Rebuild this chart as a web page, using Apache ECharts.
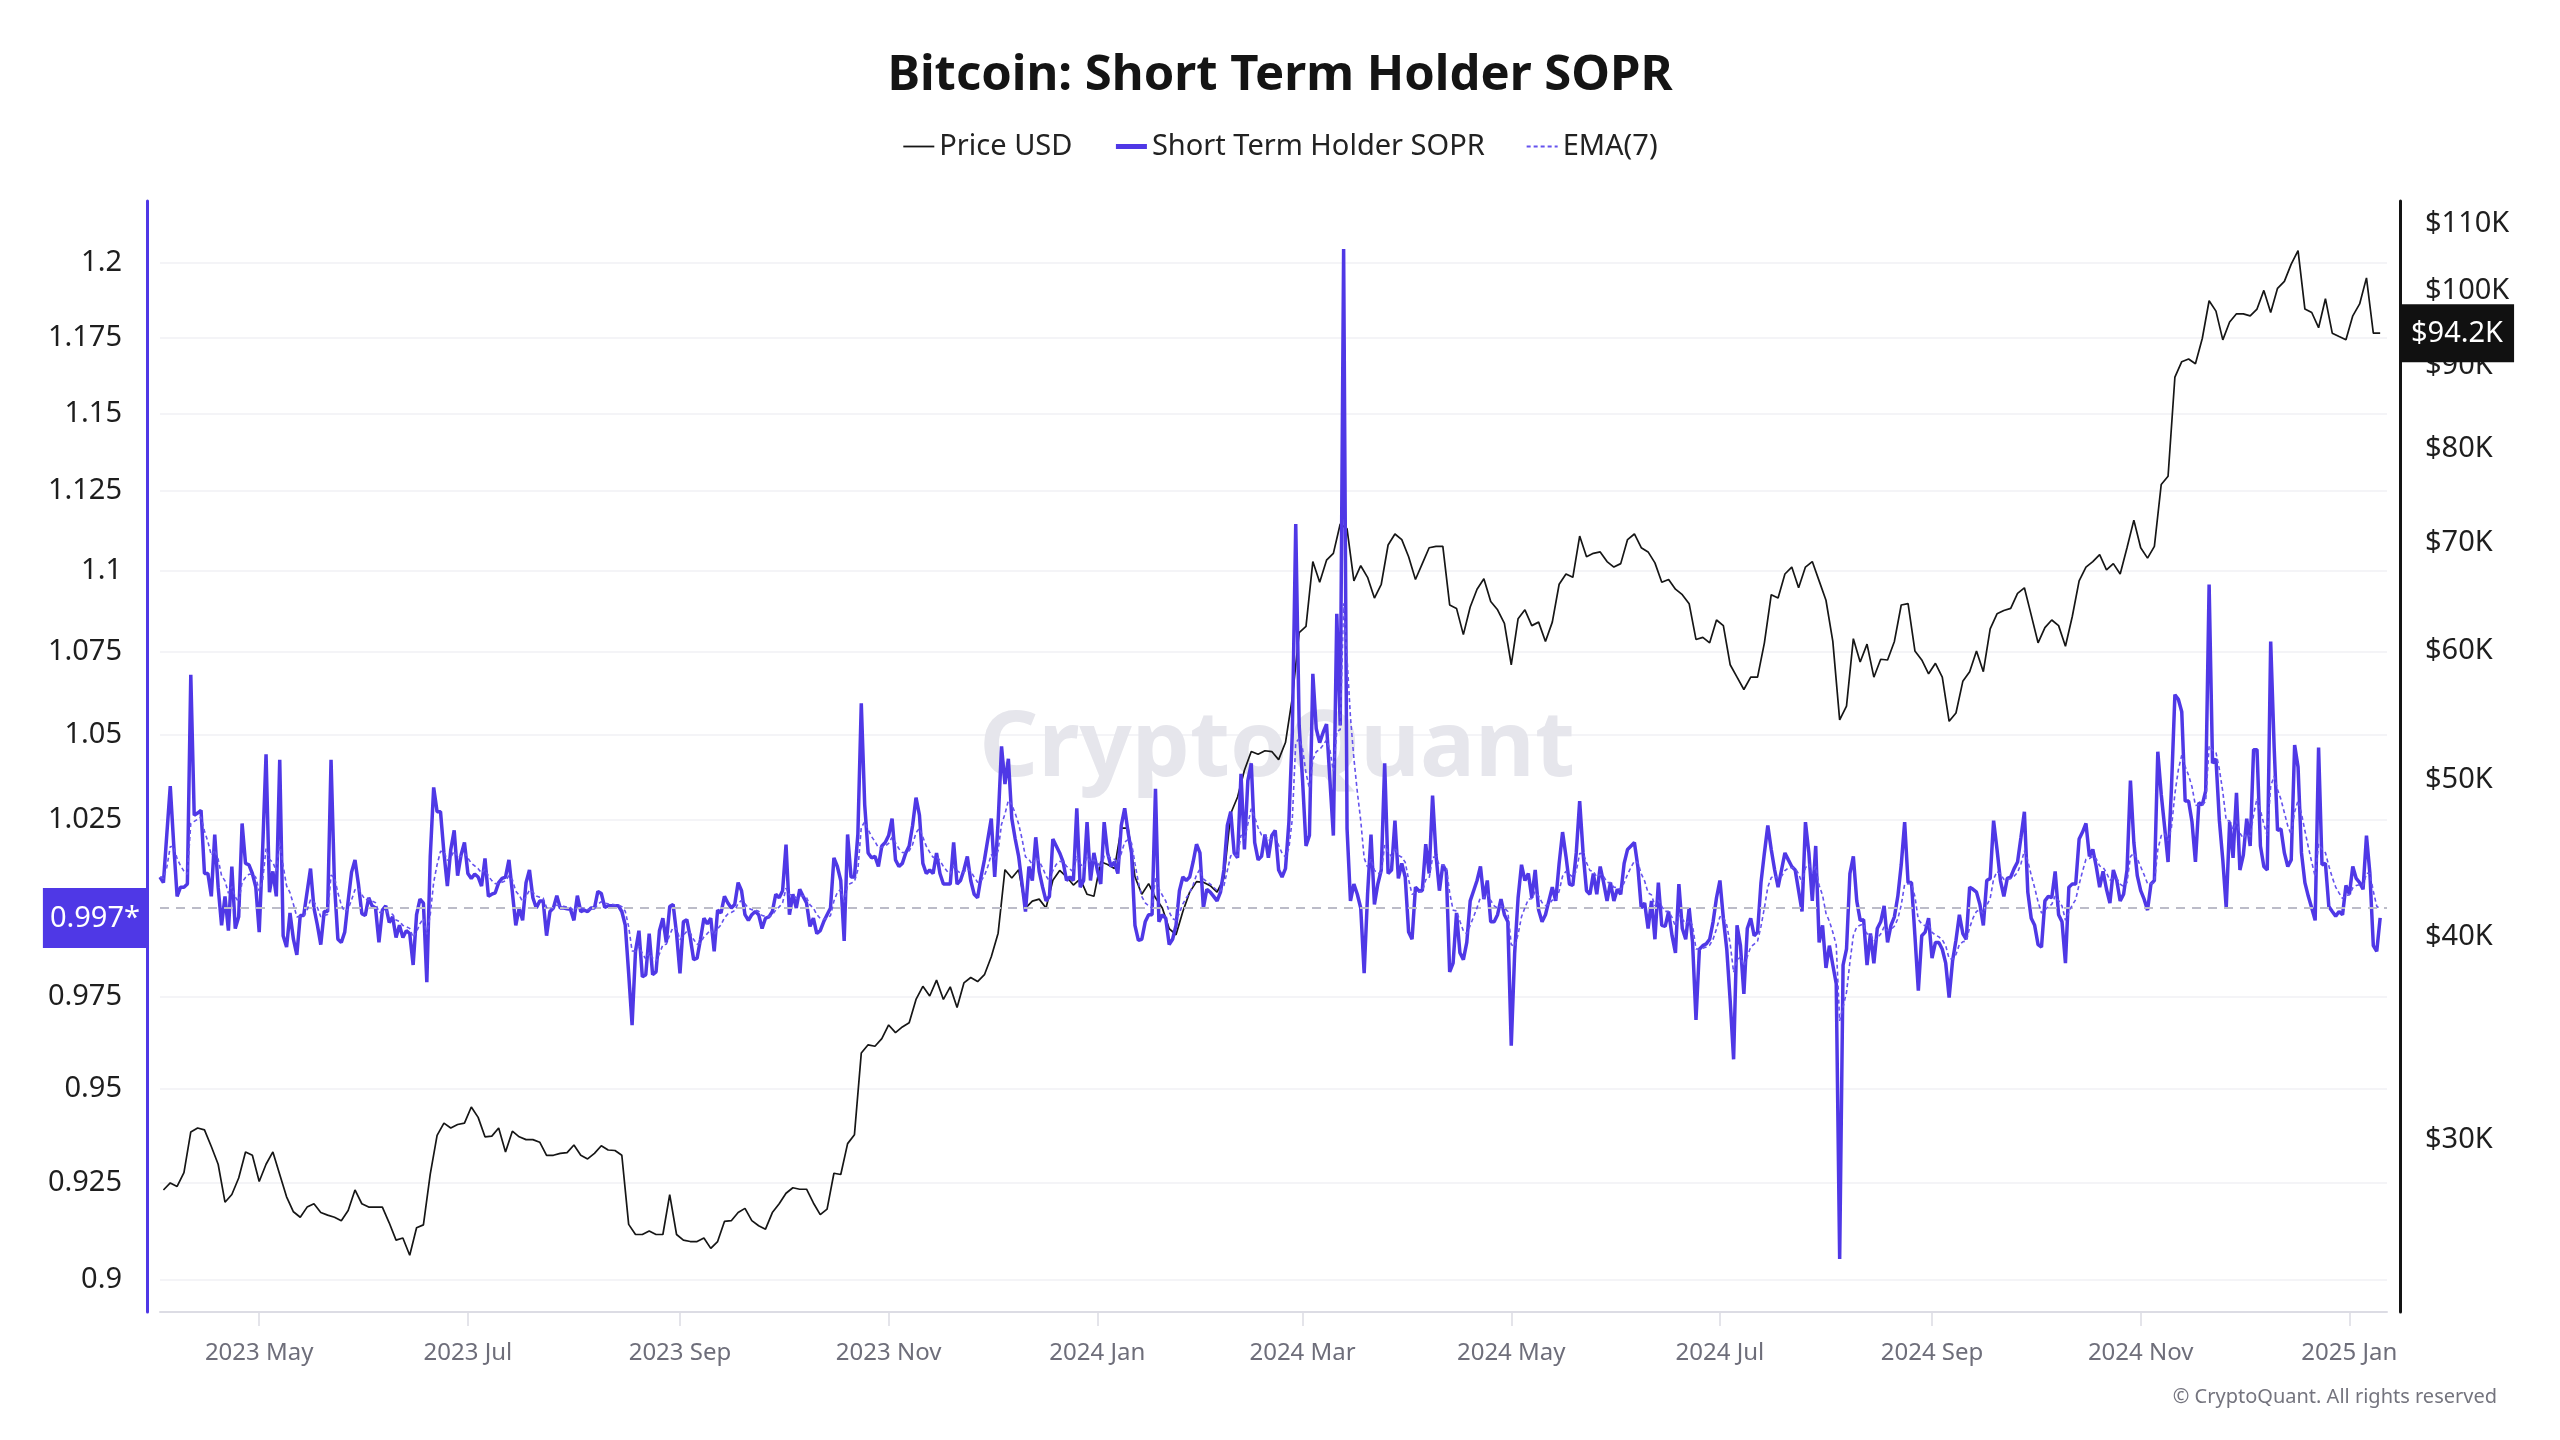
<!DOCTYPE html>
<html>
<head>
<meta charset="utf-8">
<script src="https://cdn.jsdelivr.net/npm/echarts@6.0.0/dist/echarts.min.js"></script>
<style>
html,body{margin:0;padding:0;background:#ffffff;}
#chart{width:2560px;height:1440px;}
</style>
</head>
<body>
<div id="chart"></div>
<script>
// ---------------- data ----------------
// Short Term Holder SOPR, one value per day starting 2023-04-02
const soprStart = '2023-04-02';
const soprValues = [
1.0086,1.0070,1.021,1.0349,1.018,1.0031,1.0057,1.0057,1.0066,1.068,
1.0264,1.027,1.0278,1.0096,1.0096,1.0031,1.0208,1.0057,0.9949,1.0031,
0.9934,1.0116,0.994,0.9973,1.024,1.0125,1.0121,1.0096,1.0057,0.993,
1.0164,1.0442,1.0043,1.0102,1.0031,1.0426,0.992,0.9888,0.9984,0.991,
0.9866,0.9977,0.9977,1.0043,1.011,0.9998,0.995,0.9895,0.9988,0.9988,
1.0426,1.0066,0.991,0.9901,0.993,1.0018,1.01,1.0135,1.0066,0.9982,
0.9977,1.0027,1.0004,0.9998,0.9901,0.9992,1.0004,0.9957,0.9973,0.9915,
0.9949,0.9915,0.9934,0.9926,0.9838,0.9979,1.0023,1.0012,0.979,1.0145,
1.0345,1.0274,1.0274,1.0155,1.006,1.0165,1.022,1.009,1.0149,1.0185,
1.0096,1.0082,1.0094,1.0086,1.006,1.0139,1.0031,1.0037,1.0041,1.007,
1.0082,1.0086,1.0135,1.0043,0.9949,0.9998,0.9963,1.007,1.0106,1.0027,
0.9998,1.0018,1.0018,0.992,0.9988,0.9998,1.0033,0.9998,0.9998,0.9996,
0.9994,0.9963,1.0033,0.9988,0.9992,0.9988,0.9998,0.9998,1.0045,1.0039,
1.0,1.0004,1.0004,1.0004,1.0004,0.9988,0.995,0.9815,0.9672,0.9876,
0.9934,0.9805,0.9811,0.9926,0.9811,0.9819,0.9934,0.9969,0.9901,1.0002,
1.0008,0.9926,0.9815,0.9959,0.9965,0.9915,0.9853,0.9857,0.991,0.9969,
0.9953,0.9969,0.9876,0.9992,0.9984,1.0031,1.0012,0.9998,1.0008,1.007,
1.0047,0.9979,0.9963,0.9979,0.9988,0.9979,0.994,0.9969,0.9973,0.9988,
1.0037,1.0027,1.0047,1.0179,0.9979,1.0037,0.9998,1.0051,1.0031,1.0012,
0.9946,0.9969,0.9926,0.9934,0.9959,0.9979,0.9998,1.0141,1.0116,1.0076,
0.9905,1.0208,1.0086,1.0086,1.0208,1.0594,1.0294,1.0155,1.0141,1.0145,
1.0116,1.0175,1.0185,1.0205,1.0254,1.0135,1.0116,1.0125,1.0155,1.0175,
1.0234,1.0315,1.0264,1.0125,1.0096,1.0106,1.0096,1.0155,1.0096,1.0066,
1.0066,1.0066,1.0185,1.0066,1.0076,1.0106,1.0145,1.0076,1.0037,1.0027,
1.0086,1.0135,1.0195,1.0254,1.0086,1.0244,1.0466,1.0355,1.0429,1.0254,
1.0195,1.0145,1.0066,0.9988,1.0116,1.0076,1.02,1.0102,1.0057,1.0018,
1.0031,1.0195,1.0175,1.0155,1.0129,1.0076,1.0086,1.0076,1.0284,1.0057,
1.0076,1.0244,1.0076,1.0155,1.0106,1.0066,1.0244,1.0155,1.0116,1.0129,
1.0096,1.0234,1.0284,1.0214,1.0155,0.9949,0.9907,0.991,0.9959,0.9979,
0.9979,1.0341,0.9959,0.9979,0.9969,0.9895,0.991,0.9949,1.0047,1.0086,
1.0076,1.0086,1.0129,1.018,1.0155,0.9998,1.0051,1.0043,1.0031,1.0018,
1.0043,1.0106,1.0234,1.0274,1.0155,1.0141,1.0385,1.0165,1.0365,1.0416,
1.0185,1.0135,1.0145,1.0208,1.0141,1.0205,1.022,1.0106,1.0086,1.011,
1.0244,1.0507,1.1145,1.0528,1.0365,1.0175,1.0205,1.0683,1.0518,1.0477,
1.0507,1.0532,1.0365,1.0205,1.0866,1.0528,1.2047,1.0225,1.0018,1.0066,
1.0037,0.9998,0.9815,1.0037,1.0208,1.0008,1.0066,1.0106,1.0416,1.0096,
1.0106,1.0248,1.0082,1.0125,1.0086,0.993,0.991,1.0057,1.0047,1.0047,
1.018,1.0096,1.0321,1.0149,1.0047,1.0121,1.0102,0.9819,0.9843,0.9984,
0.9872,0.9853,0.9901,1.0018,1.0047,1.0076,1.0116,1.0023,1.0076,0.9959,
0.9959,0.9979,1.0023,0.9979,0.9959,0.9616,0.9872,1.0027,1.0121,1.0076,
1.0096,1.0027,1.0106,0.9992,0.9959,0.9979,1.0018,1.0057,1.0018,1.0125,
1.0215,1.0145,1.0066,1.0062,1.0155,1.0305,1.0155,1.0047,1.0037,1.0096,
1.0037,1.0116,1.007,1.0018,1.007,1.0018,1.0051,1.0037,1.0125,1.0165,
1.0175,1.0185,1.0116,0.9998,1.0012,0.994,1.0018,0.991,1.007,0.9949,
0.9946,0.9988,0.992,0.9872,1.0066,0.994,0.991,0.9998,0.9901,0.9686,
0.9882,0.9892,0.9897,0.991,0.9959,1.0027,1.0076,0.9969,0.9882,0.9739,
0.9579,0.9949,0.9892,0.9758,0.994,0.9969,0.992,0.993,1.007,1.0155,
1.0234,1.0165,1.0106,1.0057,1.0106,1.0155,1.0135,1.0116,1.0106,1.0047,
0.9988,1.0244,1.0155,1.0018,1.0175,0.9901,0.9949,0.983,0.9892,0.9838,
0.9786,0.9053,0.9838,0.9882,1.0096,1.0145,1.0018,0.9963,0.9965,0.9838,
0.9926,0.9843,0.994,0.9959,1.0004,0.9901,0.9949,0.9973,1.0031,1.0121,
1.0244,1.007,1.007,0.992,0.9767,0.992,0.993,0.9969,0.9857,0.9901,
0.9901,0.9882,0.9843,0.9748,0.9849,0.9907,0.9979,0.9926,0.991,1.0057,
1.0051,1.0043,1.0008,0.9949,1.0076,1.0082,1.0248,1.0165,1.0076,1.0031,
1.0082,1.0086,1.011,1.0129,1.02,1.0274,1.0043,0.9969,0.9949,0.9895,
0.9888,1.0018,1.0031,1.0027,1.0102,0.9979,0.9959,0.9843,1.0057,1.0066,
1.0066,1.0195,1.0215,1.024,1.0145,1.0165,1.0116,1.0057,1.0102,1.0051,
1.0012,1.0106,1.0076,1.0018,1.0037,1.0106,1.0365,1.0185,1.009,1.0047,
1.0023,0.9992,1.0066,1.0076,1.045,1.0325,1.0229,1.0129,1.0345,1.062,
1.0606,1.0569,1.0305,1.0305,1.0244,1.0129,1.03,1.0294,1.0335,1.0956,
1.0416,1.0429,1.0248,1.0135,0.9998,1.0244,1.0141,1.0329,1.0106,1.0149,
1.0254,1.0175,1.0456,1.0456,1.0175,1.0116,1.0106,1.0781,1.0466,1.022,
1.0224,1.0155,1.0116,1.0135,1.047,1.0405,1.0155,1.007,1.0031,0.9998,
0.9963,1.0462,1.0121,1.0125,1.0002,0.9988,0.9975,0.9988,0.9979,1.0062,
1.0037,1.0116,1.0082,1.007,1.0051,1.0205,1.0096,0.9892,0.9876,0.997
];

// Price USD in thousands of dollars, one value every 2 days starting 2023-04-03
const priceStart = '2023-04-03';
const priceStepDays = 2;
const priceValuesK = [
27.93,28.21,28.07,28.63,30.33,30.50,30.42,29.71,28.97,27.45,
27.75,28.41,29.48,29.34,28.27,28.97,29.48,28.55,27.66,27.08,
26.87,27.26,27.39,27.05,26.95,26.87,26.74,27.13,27.93,27.39,
27.26,27.26,27.26,26.66,26.01,26.09,25.46,26.47,26.58,28.57,
30.18,30.71,30.50,30.65,30.71,31.42,30.96,30.12,30.15,30.50,
29.48,30.36,30.12,30.0,30.0,29.89,29.34,29.34,29.42,29.45,
29.77,29.34,29.19,29.42,29.74,29.56,29.54,29.34,26.6,26.22,
26.22,26.35,26.22,26.22,27.75,26.22,26.01,25.96,25.96,26.09,
25.71,25.96,
26.71,26.74,27.05,27.21,26.74,26.55,26.42,27.05,27.39,27.80,
28.02,27.96,27.96,27.42,26.97,27.18,28.60,28.55,29.83,30.21,
33.92,34.32,34.25,34.62,35.30,34.92,35.20,35.41,36.60,37.29,
36.78,37.62,36.60,37.26,36.18,37.47,37.76,37.54,37.91,38.89,
40.21,44.0,43.48,44.0,41.67,42.08,42.2,41.67,43.35,43.95,
43.56,43.05,43.43,42.49,42.37,44.50,44.33,44.07,46.67,46.67,
43.56,42.49,43.14,42.28,41.67,40.47,40.12,41.47,42.62,43.26,
43.22,43.01,42.62,43.48,47.65,48.78,50.67,52.03,51.83,52.09,
52.03,
51.44,52.70,56.14,61.6,62.14,68.13,66.16,68.26,68.93,71.86,
71.37,66.29,67.73,66.62,64.69,65.97,69.75,70.85,70.29,68.6,
66.42,67.93,69.48,69.61,69.61,64.06,63.75,61.42,63.87,65.51,
66.49,64.37,63.62,62.40,58.85,62.82,63.62,62.21,62.52,60.83,
62.52,65.97,66.94,66.62,70.64,68.6,68.93,69.07,68.13,67.6,
67.93,70.29,70.85,69.48,69.07,68.0,66.16,66.42,65.51,65.0,
64.18,61.0,61.18,60.71,62.71,62.21,58.85,57.82,56.82,57.82,
57.82,60.71,65.0,64.69,66.94,67.6,65.64,67.6,68.13,66.29,
64.49,
60.83,54.42,55.49,61.07,59.08,60.60,57.82,59.31,59.25,60.83,
64.06,64.18,60.01,59.25,58.10,58.97,57.82,54.31,54.96,57.48,
58.27,60.01,58.27,61.92,63.26,63.56,63.75,65.13,65.64,63.14,
60.71,62.03,62.71,62.21,60.42,63.02,66.29,67.6,68.13,68.8,
67.34,67.93,66.94,69.48,72.26,69.48,68.46,69.61,76.0,76.89,
88.52,90.47,90.82,90.21,93.50,98.64,97.2,93.32,95.71,96.83,
96.83,96.55,97.49,100.1,97.01,100.4,101.4,103.9,105.9,97.49,
97.01,94.94,98.93,94.21,93.75,93.32,96.55,98.20,101.9,94.21,
94.2
];

// axis ticks and labels
const soprTicks = [0.9,0.925,0.95,0.975,1.025,1.05,1.075,1.1,1.125,1.15,1.175,1.2];
const priceTicksK = [30,40,50,60,70,80,90,100,110];
const monthTicks = ['2023-05-01','2023-07-01','2023-09-01','2023-11-01','2024-01-01','2024-03-01',
                    '2024-05-01','2024-07-01','2024-09-01','2024-11-01','2025-01-01'];
const monthLabels = ['2023 May','2023 Jul','2023 Sep','2023 Nov','2024 Jan','2024 Mar',
                     '2024 May','2024 Jul','2024 Sep','2024 Nov','2025 Jan'];
const lastSopr = '0.997*';
const lastPrice = '$94.2K';

// ---------------- chart ----------------
const DAY = 86400000;
const toTs = s => new Date(s + 'T00:00:00Z').getTime();
const t0 = toTs(soprStart);
const p0 = toTs(priceStart);

const soprData = soprValues.map((v, i) => [t0 + i * DAY, v]);
const priceData = priceValuesK.map((v, i) => [p0 + i * priceStepDays * DAY, v]);
// EMA(7) of the SOPR series, as named in the legend of the original chart
const emaData = [];
let ema = soprValues[0];
soprValues.forEach((v, i) => {
  ema = i === 0 ? v : ema + (v - ema) * (2 / 8);
  emaData.push([t0 + i * DAY, +ema.toFixed(5)]);
});

const monthTs = monthTicks.map(toTs);
const FONT = '"Noto Sans", "DejaVu Sans", sans-serif';
const PURPLE = '#4f38e6';

const chart = echarts.init(document.getElementById('chart'), null, {renderer: 'canvas'});
const option = {
  backgroundColor: '#ffffff',
  animation: false,
  textStyle: {fontFamily: FONT},
  title: {
    text: 'Bitcoin: Short Term Holder SOPR',
    left: 'center',
    top: 47,
    textStyle: {fontSize: 49, fontWeight: 'bold', color: '#141414', fontFamily: FONT}
  },
  legend: {
    top: 127,
    left: 'center',
    itemGap: 41,
    itemWidth: 31,
    itemHeight: 14,
    itemStyle: {opacity: 0},
    textStyle: {fontSize: 29, color: '#222222', fontFamily: FONT},
    data: [
      {name: 'Price USD', lineStyle: {width: 1.8}},
      {name: 'Short Term Holder SOPR', lineStyle: {width: 5}},
      {name: 'EMA(7)', lineStyle: {width: 1.8}}
    ]
  },
  grid: {left: 160, right: 173, top: 201, bottom: 128},
  xAxis: {
    type: 'value',
    min: toTs('2023-04-02'),
    max: toTs('2025-01-12'),
    scale: true,
    axisLine: {onZero: false, lineStyle: {color: '#dcdce4', width: 2}},
    axisTick: {show: true, length: 14, customValues: monthTs, lineStyle: {color: '#dcdce4', width: 1.5}},
    axisLabel: {
      customValues: monthTs,
      margin: 29,
      fontSize: 24,
      color: '#6e6e7a',
      fontFamily: FONT,
      formatter: function (v) {
        let best = 0, bd = Infinity;
        monthTs.forEach((t, i) => { const d = Math.abs(t - v); if (d < bd) { bd = d; best = i; } });
        return monthLabels[best];
      }
    },
    splitLine: {show: false}
  },
  yAxis: [
    {
      type: 'log',
      logBase: 10,
      min: 0.8918,
      max: 1.2212,
      position: 'left',
      offset: 13,
      axisLine: {show: true, onZero: false, lineStyle: {color: PURPLE, width: 3}},
      axisTick: {show: false, customValues: soprTicks},
      axisLabel: {
        customValues: soprTicks,
        margin: 25,
        fontSize: 29,
        color: '#1e1e1e',
        fontFamily: FONT,
        formatter: v => String(+(+v).toFixed(3))
      },
      splitLine: {show: true, lineStyle: {color: '#f0f0f4', width: 1.5}},
      axisPointer: {
        show: true,
        status: 'show',
        value: 0.997,
        snap: false,
        triggerTooltip: false,
        type: 'line',
        lineStyle: {opacity: 0, width: 0},
        label: {
          show: true,
          formatter: () => lastSopr,
          backgroundColor: PURPLE,
          color: '#ffffff',
          fontSize: 29,
          fontFamily: FONT,
          padding: [16, 7, 15, 7],
          margin: 0,
          borderRadius: 0
        }
      }
    },
    {
      type: 'log',
      logBase: 10,
      min: 23.49,
      max: 113.64,
      position: 'right',
      offset: 13,
      axisLine: {show: true, onZero: false, lineStyle: {color: '#141414', width: 3}},
      axisTick: {show: false, customValues: priceTicksK},
      axisLabel: {
        customValues: priceTicksK,
        margin: 25,
        fontSize: 29,
        color: '#1e1e1e',
        fontFamily: FONT,
        formatter: v => '$' + Math.round(v) + 'K'
      },
      splitLine: {show: false},
      axisPointer: {
        show: true,
        status: 'show',
        value: 94.2,
        snap: false,
        triggerTooltip: false,
        type: 'line',
        lineStyle: {opacity: 0, width: 0},
        label: {
          show: true,
          formatter: () => lastPrice,
          backgroundColor: '#111111',
          color: '#ffffff',
          fontSize: 29,
          fontFamily: FONT,
          padding: [15, 11, 14, 11],
          margin: 0,
          borderRadius: 0
        }
      }
    }
  ],
  axisPointer: {triggerOn: 'none'},
  series: [
    {
      name: 'ref',
      type: 'line',
      yAxisIndex: 0,
      data: [],
      z: 1,
      silent: true,
      markLine: {
        silent: true,
        symbol: ['none', 'none'],
        label: {show: false},
        lineStyle: {type: [9, 7], color: '#bcbcc8', width: 2},
        data: [{yAxis: 1}]
      }
    },
    {
      name: 'Price USD',
      type: 'line',
      yAxisIndex: 1,
      data: priceData,
      symbol: 'none',
      showSymbol: false,
      color: '#161616',
      lineStyle: {color: '#161616', width: 1.7},
      z: 3
    },
    {
      name: 'Short Term Holder SOPR',
      type: 'line',
      yAxisIndex: 0,
      data: soprData,
      symbol: 'none',
      showSymbol: false,
      color: PURPLE,
      lineStyle: {color: PURPLE, width: 3.5},
      z: 4
    },
    {
      name: 'EMA(7)',
      type: 'line',
      yAxisIndex: 0,
      data: emaData,
      symbol: 'none',
      showSymbol: false,
      color: '#6552ee',
      lineStyle: {color: '#6552ee', width: 1.6, type: [4, 3]},
      z: 5
    }
  ],
  graphic: [
    {
      type: 'text',
      z: 1,
      silent: true,
      x: 1277,
      y: 750,
      style: {
        text: 'CryptoQuant',
        fontSize: 92,
        fontWeight: 'bold',
        fontFamily: FONT,
        fill: '#e6e6ec',
        align: 'center',
        verticalAlign: 'middle'
      }
    },
    {
      type: 'text',
      z: 10,
      silent: true,
      x: 2497,
      y: 1397,
      style: {
        text: '\u00a9 CryptoQuant. All rights reserved',
        fontSize: 20,
        fontFamily: FONT,
        fill: '#74747e',
        align: 'right',
        verticalAlign: 'middle'
      }
    }
  ]
};
chart.setOption(option);
</script>
</body>
</html>
